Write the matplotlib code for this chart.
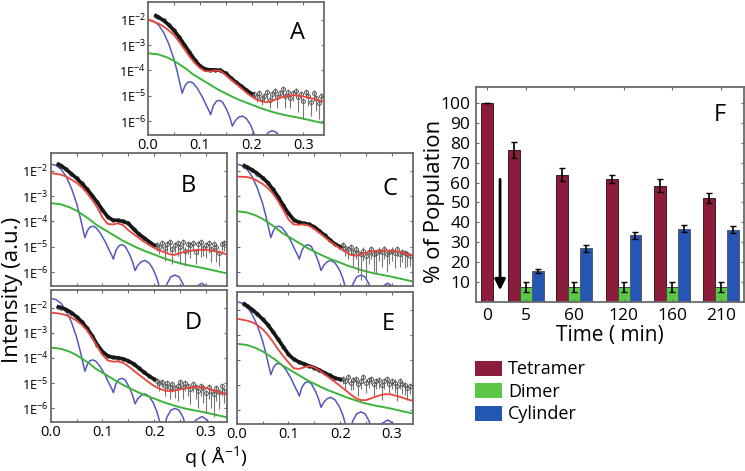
import numpy as np
import matplotlib
matplotlib.use('Agg')
import matplotlib.pyplot as plt
from matplotlib.patches import Patch

plt.rcParams['font.family'] = ['Open Sans', 'DejaVu Sans']
plt.rcParams['mathtext.fontset'] = 'custom'
plt.rcParams['mathtext.rm'] = 'Open Sans'
plt.rcParams['mathtext.it'] = 'Open Sans:italic'

RED = '#e8453c'; BLUE = '#5656c0'; GREEN = '#3cb43c'; FRAME = '#6a6a6a'
C_TET = '#8c1c3c'; C_DIM = '#5cc646'; C_CYL = '#2456b4'

# ---- SAXS panels (values are log10 intensity) ----
PANELS = ['A', 'B', 'C', 'D', 'E']
Q_FIT = [0.00, 0.01, 0.02, 0.03, 0.04, 0.05, 0.06, 0.07, 0.08, 0.09, 0.10, 0.11,
         0.12, 0.13, 0.14, 0.15, 0.16, 0.17, 0.18, 0.19, 0.20, 0.21, 0.22, 0.23,
         0.24, 0.25, 0.26, 0.27, 0.28, 0.29, 0.30, 0.31, 0.32, 0.33, 0.34]
RED_A = [-2.00, -2.07, -2.15, -2.27, -2.42, -2.60, -2.87, -3.15, -3.45, -3.70, -3.90, -4.03,
         -4.04, -4.00, -4.02, -4.18, -4.36, -4.53, -4.70, -4.88, -5.03, -5.15, -5.23, -5.26,
         -5.20, -5.12, -5.05, -5.00, -4.98, -5.00, -5.03, -5.07, -5.12, -5.18, -5.23]
RED_B = [-2.10, -2.12, -2.16, -2.23, -2.35, -2.48, -2.65, -2.88, -3.15, -3.45, -3.85, -4.10,
         -4.12, -4.08, -4.15, -4.35, -4.50, -4.65, -4.80, -4.93, -5.05, -5.15, -5.22, -5.30,
         -5.32, -5.25, -5.20, -5.16, -5.13, -5.12, -5.12, -5.14, -5.18, -5.24, -5.30]
RED_C = [-2.23, -2.24, -2.25, -2.30, -2.40, -2.52, -2.68, -2.90, -3.20, -3.55, -3.92, -4.12,
         -4.13, -4.12, -4.17, -4.30, -4.45, -4.62, -4.78, -4.93, -5.07, -5.20, -5.32, -5.36,
         -5.30, -5.24, -5.19, -5.16, -5.15, -5.15, -5.16, -5.19, -5.23, -5.29, -5.35]
RED_D = [-2.20, -2.22, -2.25, -2.30, -2.40, -2.52, -2.68, -2.90, -3.20, -3.55, -3.88, -4.10,
         -4.15, -4.14, -4.20, -4.33, -4.50, -4.66, -4.82, -4.98, -5.12, -5.22, -5.30, -5.32,
         -5.30, -5.25, -5.20, -5.17, -5.16, -5.17, -5.20, -5.26, -5.33, -5.40, -5.46]
RED_E = [-2.36, -2.40, -2.44, -2.50, -2.62, -2.78, -3.00, -3.28, -3.58, -3.85, -4.10, -4.33,
         -4.36, -4.30, -4.24, -4.30, -4.42, -4.58, -4.73, -4.88, -5.04, -5.20, -5.37, -5.52,
         -5.60, -5.60, -5.53, -5.45, -5.39, -5.36, -5.38, -5.44, -5.50, -5.57, -5.63]
RED_FITS = dict(zip(PANELS, [RED_A, RED_B, RED_C, RED_D, RED_E]))

# model components: shape relative to q=0, plus level at q=0 for each panel
BLUE_Q = [0.000, 0.010, 0.020, 0.030, 0.040, 0.050, 0.057, 0.062, 0.066, 0.071, 0.076,
          0.081, 0.087, 0.095, 0.105, 0.113, 0.118, 0.121, 0.126, 0.132, 0.138, 0.144,
          0.152, 0.158, 0.163, 0.168, 0.175, 0.182, 0.190, 0.198, 0.205, 0.212, 0.218,
          0.224, 0.232, 0.240, 0.248, 0.256, 0.262, 0.270, 0.280, 0.292, 0.303, 0.312,
          0.320, 0.340]
BLUE_REL = [0.00, -0.05, -0.20, -0.50, -0.95, -1.55, -2.10, -2.55, -2.90, -2.62, -2.48,
            -2.45, -2.50, -2.70, -3.05, -3.40, -3.60, -3.75, -3.40, -3.22, -3.18, -3.25,
            -3.55, -3.85, -4.20, -4.00, -3.85, -3.80, -3.90, -4.15, -4.50, -5.00, -5.30,
            -4.75, -4.45, -4.38, -4.45, -4.75, -5.20, -5.30, -4.85, -4.70, -4.85, -5.30,
            -5.60, -5.60]
BLUE_START = [-2.00, -1.74, -1.74, -1.63, -1.69]
GREEN_Q = [0.000, 0.020, 0.036, 0.050, 0.062, 0.075, 0.087, 0.100, 0.113, 0.126, 0.139,
           0.152, 0.165, 0.178, 0.191, 0.204, 0.216, 0.230, 0.242, 0.255, 0.268, 0.281,
           0.294, 0.307, 0.320, 0.340]
GREEN_REL = [0.00, -0.05, -0.16, -0.30, -0.46, -0.64, -0.84, -1.00, -1.16, -1.32, -1.48,
             -1.61, -1.74, -1.86, -1.96, -2.06, -2.16, -2.25, -2.33, -2.40, -2.46, -2.51,
             -2.56, -2.62, -2.68, -2.77]
GREEN_START = [-3.32, -3.28, -3.60, -3.59, -3.36]

# measured data: dense low-q part, then noisy tail with error bars
Q_LOW = [0.015, 0.02, 0.03, 0.04, 0.05, 0.06, 0.07, 0.08, 0.09, 0.10,
         0.11, 0.12, 0.13, 0.14, 0.15, 0.16, 0.17, 0.18, 0.19, 0.20]
LOW_A = [-1.84, -1.90, -2.03, -2.20, -2.42, -2.68, -2.98, -3.28, -3.58, -3.82,
         -3.95, -3.98, -3.98, -4.00, -4.12, -4.30, -4.47, -4.62, -4.78, -4.92]
LOW_B = [-1.75, -1.80, -1.95, -2.12, -2.30, -2.50, -2.72, -2.98, -3.25, -3.55,
         -3.82, -3.95, -3.96, -4.00, -4.08, -4.30, -4.50, -4.65, -4.80, -4.95]
LOW_C = [-1.80, -1.86, -1.97, -2.11, -2.28, -2.47, -2.73, -3.03, -3.37, -3.68,
         -3.93, -4.04, -4.08, -4.12, -4.22, -4.38, -4.55, -4.73, -4.90, -5.00]
LOW_D = [-1.97, -2.00, -2.08, -2.20, -2.37, -2.56, -2.82, -3.12, -3.48, -3.75,
         -3.92, -3.98, -4.00, -4.04, -4.12, -4.24, -4.40, -4.57, -4.72, -4.85]
LOW_E = [-1.78, -1.85, -2.00, -2.18, -2.38, -2.60, -2.88, -3.18, -3.48, -3.78,
         -3.97, -4.08, -4.16, -4.24, -4.31, -4.41, -4.52, -4.62, -4.72, -4.78]
LOWS = dict(zip(PANELS, [LOW_A, LOW_B, LOW_C, LOW_D, LOW_E]))

Q_TAIL = [0.205, 0.210, 0.215, 0.220, 0.225, 0.230, 0.235, 0.240, 0.245, 0.250, 0.255,
          0.260, 0.265, 0.270, 0.275, 0.280, 0.285, 0.290, 0.295, 0.300, 0.305, 0.310,
          0.315, 0.320, 0.325, 0.330, 0.335]
TAIL_A = [-4.95, -5.05, -4.90, -5.10, -5.00, -4.85, -5.15, -4.95, -4.80, -5.05, -4.90, -4.75,
          -5.00, -4.85, -5.10, -4.90, -4.80, -5.05, -4.95, -5.20, -4.85, -5.00, -5.25, -4.90,
          -5.10, -5.30, -5.00]
TAIL_B = [-4.95, -5.00, -4.85, -5.05, -4.90, -4.80, -5.10, -4.95, -4.85, -5.00, -4.80, -5.15,
          -4.90, -4.95, -4.85, -5.20, -4.90, -4.80, -5.05, -4.95, -4.85, -5.10, -4.90, -5.00,
          -5.25, -4.90, -4.85]
TAIL_C = [-4.95, -5.05, -5.10, -5.00, -5.20, -5.10, -5.25, -5.30, -5.15, -5.35, -5.20, -5.10,
          -5.30, -5.25, -5.15, -5.20, -5.10, -5.30, -5.20, -5.15, -5.25, -5.10, -5.30, -5.20,
          -5.25, -5.30, -5.35]
TAIL_D = [-4.90, -5.00, -4.95, -5.10, -5.00, -5.15, -5.05, -5.20, -5.10, -4.95, -5.15, -5.00,
          -5.10, -5.25, -5.05, -5.15, -5.30, -5.10, -5.20, -5.40, -5.15, -5.30, -5.45, -5.20,
          -5.35, -5.10, -5.30]
TAIL_E = [-4.75, -4.85, -4.70, -4.90, -4.80, -4.75, -4.95, -4.85, -4.70, -4.90, -4.80, -4.75,
          -4.95, -4.85, -4.80, -5.00, -4.85, -4.75, -4.95, -4.85, -4.90, -5.05, -4.85, -4.95,
          -5.00, -5.10, -5.05]
TAILS = dict(zip(PANELS, [TAIL_A, TAIL_B, TAIL_C, TAIL_D, TAIL_E]))
ERRLO_A = [0.15, 0.20, 0.15, 0.25, 0.20, 0.30, 0.35, 0.20, 0.25, 0.45, 0.20, 0.30, 0.50, 0.25,
           0.40, 0.30, 0.20, 0.60, 0.30, 0.70, 0.25, 0.40, 0.55, 0.30, 0.50, 0.60, 0.30]
ERRLO_B = [0.20, 0.30, 0.20, 0.50, 0.30, 0.40, 0.60, 0.30, 0.50, 0.70, 0.30, 0.60, 0.40, 0.50,
           0.30, 0.50, 0.40, 0.60, 0.30, 0.50, 0.40, 0.50, 0.30, 0.60, 0.50, 0.40, 0.30]
ERRLO_C = [0.20, 0.30, 0.40, 0.30, 0.60, 0.40, 0.80, 1.00, 0.40, 0.90, 0.50, 0.40, 0.70, 0.80,
           0.40, 0.60, 0.40, 0.70, 0.50, 0.40, 0.60, 0.30, 0.50, 0.40, 0.60, 0.50, 0.40]
ERRLO_D = [0.20, 0.30, 0.20, 0.40, 0.30, 0.50, 0.30, 0.40, 0.60, 0.30, 0.50, 0.30, 0.40, 0.60,
           0.30, 0.50, 0.70, 0.40, 0.60, 0.80, 0.50, 0.70, 0.90, 0.50, 0.70, 0.40, 0.50]
ERRLO_E = [0.20, 0.30, 0.20, 0.30, 0.40, 0.20, 0.50, 0.30, 0.20, 0.40, 0.30, 0.20, 0.50, 0.30,
           0.30, 0.60, 0.30, 0.20, 0.40, 0.30, 0.40, 0.60, 0.30, 0.40, 0.40, 0.50, 0.30]
ERRLOS = dict(zip(PANELS, [ERRLO_A, ERRLO_B, ERRLO_C, ERRLO_D, ERRLO_E]))
ERR_UP = 0.12

Y_TICKS = [1e-2, 1e-3, 1e-4, 1e-5, 1e-6]
Y_LABELS = [r'1E$^{-2}$', r'1E$^{-3}$', r'1E$^{-4}$', r'1E$^{-5}$', r'1E$^{-6}$']
X_TICKS = [0.0, 0.1, 0.2, 0.3]
X_LABELS = ['0.0', '0.1', '0.2', '0.3']

# ---- panel F ----
TIMES = ['0', '5', '60', '120', '160', '210']
TETRAMER = [100, 76.5, 64.0, 61.8, 58.5, 52.2]
TETRAMER_ERR = [0, 4.0, 3.3, 2.0, 3.2, 2.5]
DIMER = [7.7, 7.7, 7.7, 7.7, 7.7]
DIMER_ERR = [2.5, 2.5, 2.5, 2.5, 2.5]
CYLINDER = [15.6, 26.9, 33.6, 36.9, 36.3]
CYLINDER_ERR = [0.8, 1.8, 1.8, 1.8, 1.8]

fig = plt.figure(figsize=(7.45, 4.71), dpi=100)

# panel boxes [left, bottom, width, height] in figure fractions
boxes = {'A': [0.1987, 0.7134, 0.2362, 0.2824],
         'B': [0.0681, 0.3928, 0.2362, 0.2824],
         'C': [0.3177, 0.3928, 0.2362, 0.2824],
         'D': [0.0681, 0.1040, 0.2362, 0.2803],
         'E': [0.3177, 0.0998, 0.2362, 0.2803]}
letter_pos = {'A': (0.85, 0.77), 'B': (0.78, 0.75), 'C': (0.87, 0.73),
              'D': (0.81, 0.75), 'E': (0.86, 0.76)}
show_y = {'A': True, 'B': True, 'C': False, 'D': True, 'E': False}
show_x = {'A': True, 'B': False, 'C': False, 'D': True, 'E': True}

for i, p in enumerate(PANELS):
    ax = fig.add_axes(boxes[p])
    ax.set_yscale('log')
    ax.plot(BLUE_Q, 10 ** (np.array(BLUE_REL) + BLUE_START[i]), color=BLUE, lw=1.1, zorder=2)
    ax.plot(GREEN_Q, 10 ** (np.array(GREEN_REL) + GREEN_START[i]), color=GREEN, lw=1.4, zorder=2)
    tail = np.array(TAILS[p]); elo = np.array(ERRLOS[p])
    ax.errorbar(Q_TAIL, 10 ** tail, yerr=[10 ** tail - 10 ** (tail - elo), 10 ** (tail + ERR_UP) - 10 ** tail],
                fmt='o', ms=2.8, mfc='none', mec='#555555', mew=0.7, ecolor='#777777', elinewidth=0.8,
                capsize=0, zorder=3)
    ax.plot(Q_LOW, 10 ** np.array(LOWS[p]), color='#111111', lw=2.6, marker='o', ms=2.5,
            mfc='none', mec='#222222', mew=0.6, zorder=4)
    ax.plot(Q_FIT, 10 ** np.array(RED_FITS[p]), color=RED, lw=1.3, zorder=5)
    ax.set_xlim(0, 0.34)
    ax.set_ylim(10 ** -6.55, 10 ** -1.3)
    ax.set_yticks(Y_TICKS, labels=Y_LABELS if show_y[p] else [])
    ax.yaxis.set_minor_locator(matplotlib.ticker.NullLocator())
    ax.set_xticks(X_TICKS, labels=X_LABELS if show_x[p] else [])
    ax.set_xticks([0.05, 0.15, 0.25], minor=True)
    ax.tick_params(which='both', direction='in', top=True, right=True, color=FRAME,
                   length=2.5, width=0.8, labelsize=10.5, pad=2)
    ax.tick_params(axis='y', labelsize=9.2, pad=1.5)
    for s in ax.spines.values():
        s.set_color(FRAME); s.set_linewidth(1.3)
    ax.text(*letter_pos[p], p, transform=ax.transAxes, fontsize=17, ha='center', va='center')

fig.text(0.0165, 0.384, 'Intensity (a.u.)', rotation=90, ha='center', va='center', fontsize=16)
fig.text(0.289, 0.03, 'q ( Å$^{-1}$)', ha='center', va='center', fontsize=14)

# ---- panel F: population bars ----
axf = fig.add_axes([0.6389, 0.3588, 0.3597, 0.4565])
grp = np.array([0, 3.2, 7.2, 11.35, 15.4, 19.5])
tet_x = np.concatenate([[grp[0]], grp[1:] - 1])
eb = dict(ecolor='black', elinewidth=1.2, capsize=2, capthick=1.0)
axf.bar(tet_x, TETRAMER, width=1, color=C_TET, edgecolor='#3a1a22', lw=0.7,
        yerr=[TETRAMER_ERR, TETRAMER_ERR], error_kw=eb)
axf.bar(grp[1:], DIMER, width=1, color=C_DIM, edgecolor='#3a4a3a', lw=0.7, yerr=DIMER_ERR, error_kw=eb)
axf.bar(grp[1:] + 1, CYLINDER, width=1, color=C_CYL, edgecolor='#555a66', lw=0.7,
        yerr=CYLINDER_ERR, error_kw=eb)
axf.annotate('', xy=(1.05, 4.5), xytext=(1.05, 63),
             arrowprops=dict(arrowstyle='-|>', color='black', lw=2.0, mutation_scale=16))
axf.set_xlim(-0.96, 21.4)
axf.set_ylim(0, 108)
axf.set_yticks([10, 20, 30, 40, 50, 60, 70, 80, 90, 100])
axf.set_xticks(grp, labels=TIMES)
axf.tick_params(direction='in', top=True, right=True, color=FRAME, length=2.5, width=0.8,
                labelsize=12.5, pad=4)
for s in axf.spines.values():
    s.set_color(FRAME); s.set_linewidth(1.3)
axf.set_xlabel('Time ( min)', fontsize=15, labelpad=1)
axf.set_ylabel('% of Population', fontsize=16)
axf.yaxis.set_label_coords(-0.115, 0.47)
axf.text(0.91, 0.87, 'F', transform=axf.transAxes, fontsize=17, ha='center', va='center')

handles = [Patch(facecolor=C_TET), Patch(facecolor=C_DIM), Patch(facecolor=C_CYL)]
fig.legend(handles, ['Tetramer', 'Dimer', 'Cylinder'], loc='upper left',
           bbox_to_anchor=(0.638, 0.235), frameon=False, fontsize=13,
           handlelength=1.5, handleheight=0.9, labelspacing=0.25, handletextpad=0.3,
           borderaxespad=0, borderpad=0)

fig.savefig('out.png', dpi=100)
